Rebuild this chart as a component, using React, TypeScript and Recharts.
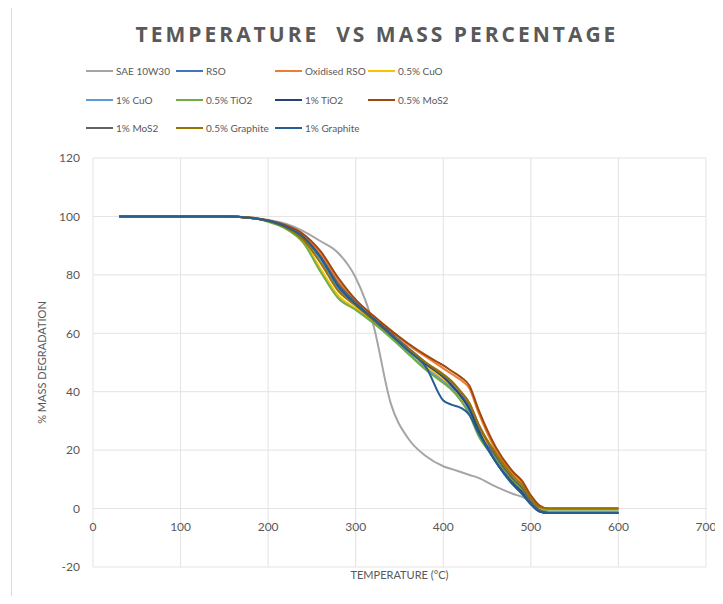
import React from 'react';
import { LineChart, Line, XAxis, YAxis, CartesianGrid } from 'recharts';

// temperature (°C) sample points shared by every series
const temps = [30, 150, 180, 200, 220, 240, 260, 280, 300, 320, 340, 360, 380, 400, 410, 420, 430, 440, 460, 480, 490, 500, 510, 520, 600];

const sae10w30 = [100, 100, 99.6, 98.8, 97.5, 95, 91.5, 87.5, 79, 63, 36, 24, 18, 14.5, 13.5, 12.5, 11.5, 10.5, 7.5, 5, 4, 2.5, 0.5, -1, -1];
const rso = [100, 100, 99.5, 98.5, 96.5, 93, 86, 76, 70, 65, 60, 54, 49, 45, 42, 39, 35, 28, 17, 9, 6, 2, -0.5, -1.5, -1.5];
const oxidisedRso = [100, 100, 99.5, 98.6, 96.8, 93.5, 87, 78, 71, 66, 61, 56, 52, 48, 46, 44, 41, 33, 20, 12, 9, 4, 0.5, 0, 0];
const cuo05 = [100, 100, 99.5, 98.3, 96, 91.5, 82, 73, 68.5, 64, 59, 54, 49, 44, 41, 38, 34, 27, 19, 10, 7, 3, 0.5, 0, 0];
const cuo1 = [100, 100, 99.5, 98.4, 96.3, 92.5, 85, 75, 69.5, 64.5, 59, 53, 48, 43.5, 41, 37, 33, 26, 16, 8, 5, 1.5, -1, -1.5, -1.5];
const tio05 = [100, 100, 99.5, 98.2, 95.8, 91, 81, 72, 68, 63.5, 58.5, 53, 47.5, 43, 40.5, 37, 32, 25, 17, 9, 6, 2, -0.5, -1, -1];
const tio1 = [100, 100, 99.5, 98.5, 96.5, 93, 86, 76.5, 70, 65, 60, 54.5, 49.5, 45, 42, 38.5, 34, 27, 16, 8.5, 5.5, 1.5, -1, -1.5, -1.5];
const mos05 = [100, 100, 99.6, 98.7, 97, 94, 88, 79, 71.5, 66, 61, 56.5, 52.5, 49, 47, 45, 42, 34, 21, 12.5, 9.5, 4.5, 1, 0, 0];
const mos1 = [100, 100, 99.5, 98.5, 96.5, 93, 86, 77, 70.5, 65, 60, 55, 50, 45.5, 43, 40, 36, 29, 18, 10, 7, 2.5, -0.5, -1.5, -1.5];
const graphite05 = [100, 100, 99.5, 98.4, 96.2, 92, 84, 74.5, 69.5, 64.5, 59.5, 54.5, 50, 46, 43.5, 40, 36, 29, 19, 11, 8, 3.5, 0.5, 0, 0];
const graphite1 = [100, 100, 99.5, 98.5, 96.5, 93, 86, 76, 70, 65, 59.5, 54, 48.5, 37, 35.5, 34.5, 32, 26, 16, 8, 5, 1.5, -1, -1.5, -1.5];

const xTicks = [0, 100, 200, 300, 400, 500, 600, 700];
const yTicks = [-20, 0, 20, 40, 60, 80, 100, 120];

const series = [
  { key: 'sae', name: 'SAE 10W30', values: sae10w30, color: '#A5A5A5' },
  { key: 'rso', name: 'RSO', values: rso, color: '#4472C4' },
  { key: 'orso', name: 'Oxidised RSO', values: oxidisedRso, color: '#ED7D31' },
  { key: 'cuo05', name: '0.5% CuO', values: cuo05, color: '#FFC000' },
  { key: 'cuo1', name: '1% CuO', values: cuo1, color: '#5B9BD5' },
  { key: 'tio05', name: '0.5% TiO2', values: tio05, color: '#70AD47' },
  { key: 'tio1', name: '1% TiO2', values: tio1, color: '#264478' },
  { key: 'mos05', name: '0.5% MoS2', values: mos05, color: '#9E480E' },
  { key: 'mos1', name: '1% MoS2', values: mos1, color: '#636363' },
  { key: 'gr05', name: '0.5% Graphite', values: graphite05, color: '#997300' },
  { key: 'gr1', name: '1% Graphite', values: graphite1, color: '#255E91' },
];

const data = temps.map((t, i) => {
  const row: Record<string, number> = { temp: t };
  series.forEach((s) => {
    row[s.key] = s.values[i];
  });
  return row;
});

const FONT = 'Lato, "Open Sans", sans-serif';
const TEXT = '#595959';

const XTick = (props: any) => {
  const { x, y, payload } = props;
  // excel draws the category labels under the zero line, not at the bottom
  return (
    <text x={x} y={y - 36} textAnchor="middle" fill={TEXT} fontSize={12} fontFamily={FONT}>
      {payload.value}
    </text>
  );
};

// legend kept outside recharts so it doesn't eat into the plot area
const LegendBox = () => (
  <div
    style={{
      position: 'absolute',
      left: 78,
      top: 49,
      display: 'grid',
      gridTemplateColumns: '90px 99px 93px 110px',
      gridAutoRows: '28.5px',
      alignItems: 'center',
      fontFamily: FONT,
      fontSize: 10,
      color: TEXT,
    }}
  >
    {series.map((s) => (
      <div key={s.key} style={{ display: 'flex', alignItems: 'center', whiteSpace: 'nowrap' }}>
        <span style={{ display: 'inline-block', width: 27, height: 2, background: s.color, marginRight: 3 }} />
        {s.name}
      </div>
    ))}
  </div>
);

export default function App() {
  return (
    <div style={{ position: 'relative', width: 707, height: 588 }}>
      <div
        style={{
          position: 'absolute',
          left: 3,
          top: -2,
          width: 705,
          height: 591,
          border: '1px solid #D9D9D9',
          background: '#fff',
        }}
      />
      <div
        style={{
          position: 'absolute',
          left: 104,
          top: 12,
          width: 530,
          textAlign: 'center',
          whiteSpace: 'pre',
          fontFamily: '"Open Sans", sans-serif',
          fontWeight: 700,
          fontSize: 21,
          letterSpacing: 3,
          lineHeight: '28px',
          color: TEXT,
        }}
      >
        {'TEMPERATURE  VS MASS PERCENTAGE'}
      </div>
      <div style={{ position: 'absolute', left: -8, top: -8 }}>
        <LineChart width={723} height={604} data={data} margin={{ top: 158, right: 17, bottom: 7, left: 33 }}>
          <CartesianGrid stroke="#E3E3E3" strokeWidth={1} />
          <XAxis
            dataKey="temp"
            type="number"
            domain={[0, 700]}
            ticks={xTicks}
            height={30}
            axisLine={false}
            tickLine={false}
            tickSize={0}
            tickMargin={0}
            tick={<XTick />}
            label={{
              value: 'TEMPERATURE (°C)',
              position: 'bottom',
              offset: -26,
              fill: TEXT,
              fontSize: 11,
              fontFamily: FONT,
            }}
          />
          <YAxis
            type="number"
            domain={[-20, 120]}
            ticks={yTicks}
            width={60}
            axisLine={false}
            tickLine={false}
            tickSize={0}
            tickMargin={13}
            tick={{ fill: TEXT, fontSize: 12, fontFamily: FONT }}
            label={{
              value: '% MASS DEGRADATION',
              angle: -90,
              position: 'insideLeft',
              offset: 9,
              fill: TEXT,
              fontSize: 11,
              fontFamily: FONT,
              style: { textAnchor: 'middle' },
            }}
          />
          {series.map((s) => (
            <Line
              key={s.key}
              type="monotone"
              dataKey={s.key}
              name={s.name}
              stroke={s.color}
              strokeWidth={2}
              dot={false}
              isAnimationActive={false}
            />
          ))}
        </LineChart>
      </div>
      <LegendBox />
    </div>
  );
}
